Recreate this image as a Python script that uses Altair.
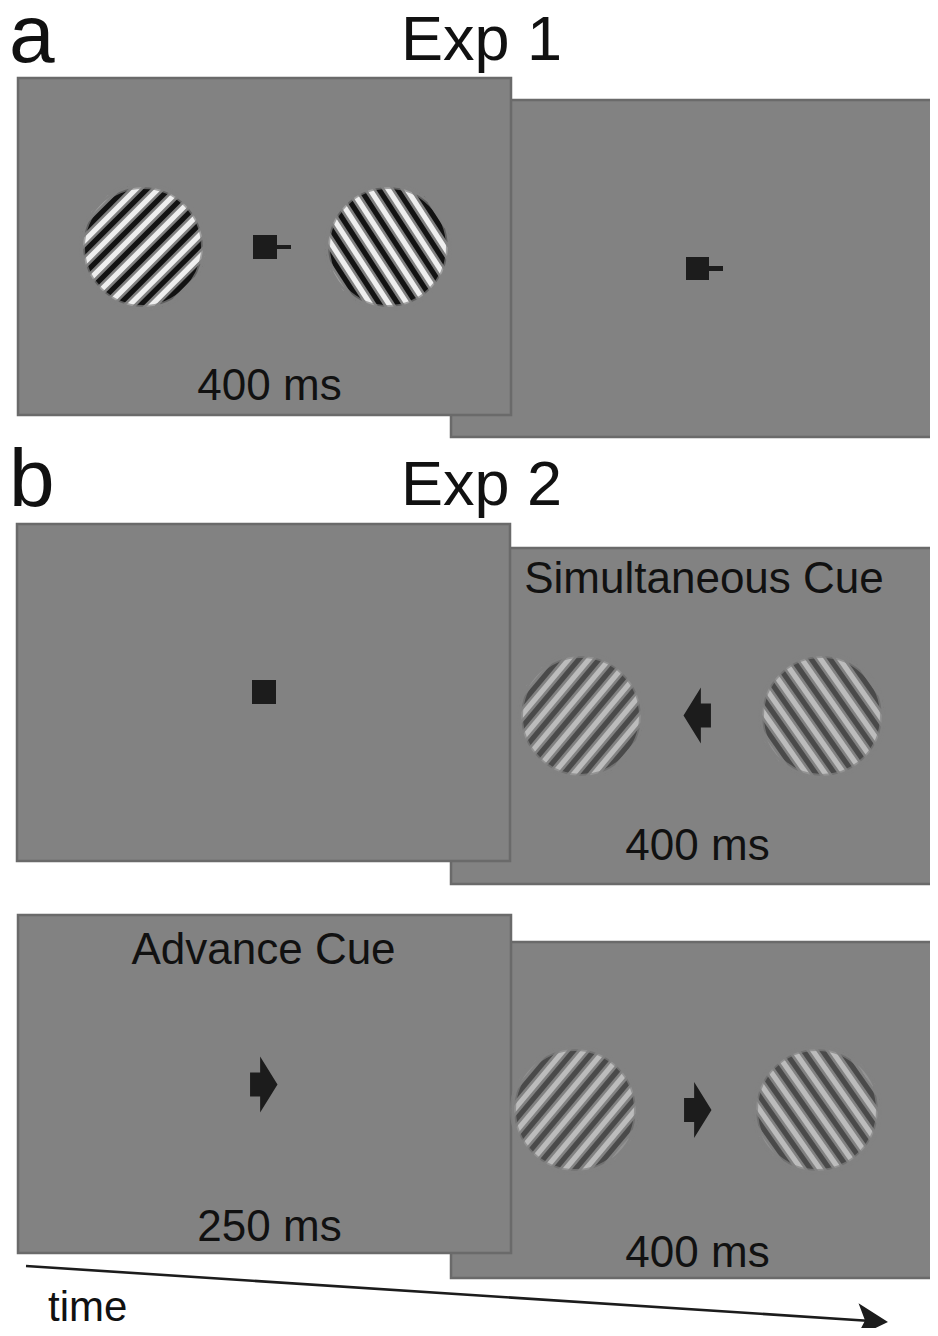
import math
import altair as alt
import pandas as pd

# ---------------- data (in page pixels) ----------------
# screens (back ones first, then front ones)
panel_x0 = [451, 451, 451, 18, 17, 18]
panel_x1 = [945, 945, 945, 511, 510, 511]
panel_y0 = [100, 548, 942, 78, 524, 915]
panel_y1 = [437, 884, 1278, 415, 861, 1253]

# fixation squares and their small bars
fix_x0 = [253, 277, 686, 709, 252]
fix_x1 = [277, 291, 709, 723, 276]
fix_y0 = [235, 245, 257, 266, 680]
fix_y1 = [259, 249, 280, 271, 704]

# cue arrows
cue_x = [697.5, 263.5, 697.5]
cue_y = [715.5, 1084.5, 1110]
cue_dir = ["left", "right", "right"]

# gratings
grat_cx = [143, 388, 581, 822, 575, 817]
grat_cy = [247, 247, 716, 716, 1110, 1110]
grat_r = [61, 61, 61, 61, 62, 62]
grat_angle = [45, 123, 50, 125, 50, 125]
grat_period = [15.5, 15.5, 15.5, 15.5, 15.5, 15.5]
grat_kind = ["high", "high", "low", "low", "low", "low"]
band_colors = {
    "high": ["#efefef", "#808080", "#121212", "#121212", "#808080", "#efefef"],
    "low": ["#bcbcbc", "#828282", "#4a4a4a", "#4a4a4a", "#828282", "#bcbcbc"],
}

# labels
left_text = ["a", "b", "Exp 1", "Exp 2", "time"]
left_x = [9, 9, 401, 401, 48]
left_y = [62, 506, 60, 505, 1321]
left_size = [82, 82, 63, 63, 42]

center_text = ["400 ms", "Simultaneous Cue", "400 ms", "Advance Cue", "250 ms", "400 ms"]
center_x = [269.5, 704, 697.5, 263.5, 269.5, 697.5]
center_y = [400, 593, 860, 964, 1241, 1267]
center_size = [44, 44, 44, 44, 44, 44]

# time arrow
time_x = [26, 871]
time_y = [1266, 1321]
time_head_angle = 3.7

# ---------------- scales ----------------
XS = alt.Scale(domain=[8, 930], nice=False, zero=False)
YS = alt.Scale(domain=[8, 1328], nice=False, zero=False, reverse=True)


def X(f):
    return alt.X(f, type="quantitative", scale=XS, axis=None)


def Y(f):
    return alt.Y(f, type="quantitative", scale=YS, axis=None)


BG = "#828282"
INK = "#1c1c1c"

panels = pd.DataFrame({"x0": panel_x0, "x1": panel_x1, "y0": panel_y0, "y1": panel_y1})
panel_layer = alt.Chart(panels).mark_rect(fill=BG, stroke="#6a6a6a", strokeWidth=2.5).encode(
    x=X("x0"), x2="x1", y=Y("y0"), y2="y1"
)

# grating chords
rows = []
for cx, cy, r, a, p, kind in zip(grat_cx, grat_cy, grat_r, grat_angle, grat_period, grat_kind):
    cols = band_colors[kind]
    nb = len(cols)
    w = p / nb
    ux, uy = math.cos(math.radians(a)), -math.sin(math.radians(a))
    nx, ny = math.sin(math.radians(a)), math.cos(math.radians(a))
    k = 0
    d = -r + w / 2
    while d < r:
        L = math.sqrt(max(r * r - d * d, 0))
        mx, my = cx + d * nx, cy + d * ny
        rows.append({"x": mx - L * ux, "y": my - L * uy, "x2": mx + L * ux, "y2": my + L * uy,
                     "col": cols[k % nb]})
        k += 1
        d += w
chords = pd.DataFrame(rows)
chord_layer = alt.Chart(chords).mark_rule(strokeWidth=3.3).encode(
    x=X("x"), y=Y("y"), x2="x2", y2="y2", color=alt.Color("col:N", scale=None)
)

rings = pd.DataFrame({"x": grat_cx, "y": grat_cy, "s": [(2 * r) ** 2 for r in grat_r]})
ring_layer = alt.Chart(rings).mark_point(shape="circle", filled=False, stroke=BG,
                                          strokeWidth=6, opacity=0.7).encode(
    x=X("x"), y=Y("y"), size=alt.Size("s:Q", scale=None)
)
ring_layer2 = alt.Chart(rings).mark_point(shape="circle", filled=False, stroke=BG,
                                           strokeWidth=2.5, opacity=1).encode(
    x=X("x"), y=Y("y"), size=alt.Size("s:Q", scale=None)
)

fix = pd.DataFrame({"x0": fix_x0, "x1": fix_x1, "y0": fix_y0, "y1": fix_y1})
fix_layer = alt.Chart(fix).mark_rect(fill=INK).encode(x=X("x0"), x2="x1", y=Y("y0"), y2="y1")

ARROW_R = "M-0.48,-0.43L-0.12,-0.43L-0.12,-1L0.5,0L-0.12,1L-0.12,0.43L-0.48,0.43Z"
ARROW_L = "M0.48,-0.43L0.12,-0.43L0.12,-1L-0.5,0L0.12,1L0.12,0.43L0.48,0.43Z"
cues = pd.DataFrame({"x": cue_x, "y": cue_y,
                     "shape": [ARROW_L if d == "left" else ARROW_R for d in cue_dir]})
cue_layer = alt.Chart(cues).mark_point(filled=True, fill=INK, opacity=1, strokeWidth=0,
                                       size=3136).encode(
    x=X("x"), y=Y("y"), shape=alt.Shape("shape:N", scale=None)
)

tline = pd.DataFrame({"x": [time_x[0]], "y": [time_y[0]], "x2": [time_x[1]], "y2": [time_y[1]]})
tline_layer = alt.Chart(tline).mark_rule(strokeWidth=2.6, color=INK).encode(
    x=X("x"), y=Y("y"), x2="x2", y2="y2"
)
thead = pd.DataFrame({"x": [time_x[1]], "y": [time_y[1]]})
thead_layer = alt.Chart(thead).mark_point(
    filled=True, fill=INK, opacity=1, strokeWidth=0, size=1156,
    shape="M1,0L-0.8,-1L-0.35,0L-0.8,1Z", angle=time_head_angle
).encode(x=X("x"), y=Y("y"))

FONT = "Liberation Sans"
ltxt = pd.DataFrame({"t": left_text, "x": left_x, "y": left_y, "s": left_size})
ltxt_layer = alt.Chart(ltxt).mark_text(align="left", baseline="alphabetic", font=FONT,
                                       color="#111111").encode(
    x=X("x"), y=Y("y"), text="t:N", size=alt.Size("s:Q", scale=None)
)
ctxt = pd.DataFrame({"t": center_text, "x": center_x, "y": center_y, "s": center_size})
ctxt_layer = alt.Chart(ctxt).mark_text(align="center", baseline="alphabetic", font=FONT,
                                       color="#111111").encode(
    x=X("x"), y=Y("y"), text="t:N", size=alt.Size("s:Q", scale=None)
)

chart = alt.layer(
    panel_layer, chord_layer, ring_layer, ring_layer2, fix_layer, cue_layer,
    tline_layer, thead_layer, ltxt_layer, ctxt_layer
).properties(
    width=922, height=1320, padding=0, autosize=alt.AutoSizeParams(type="none"),
    background="white"
).configure_view(stroke=None)

chart.save("out.html", embed_options={"renderer": "svg", "actions": False})
